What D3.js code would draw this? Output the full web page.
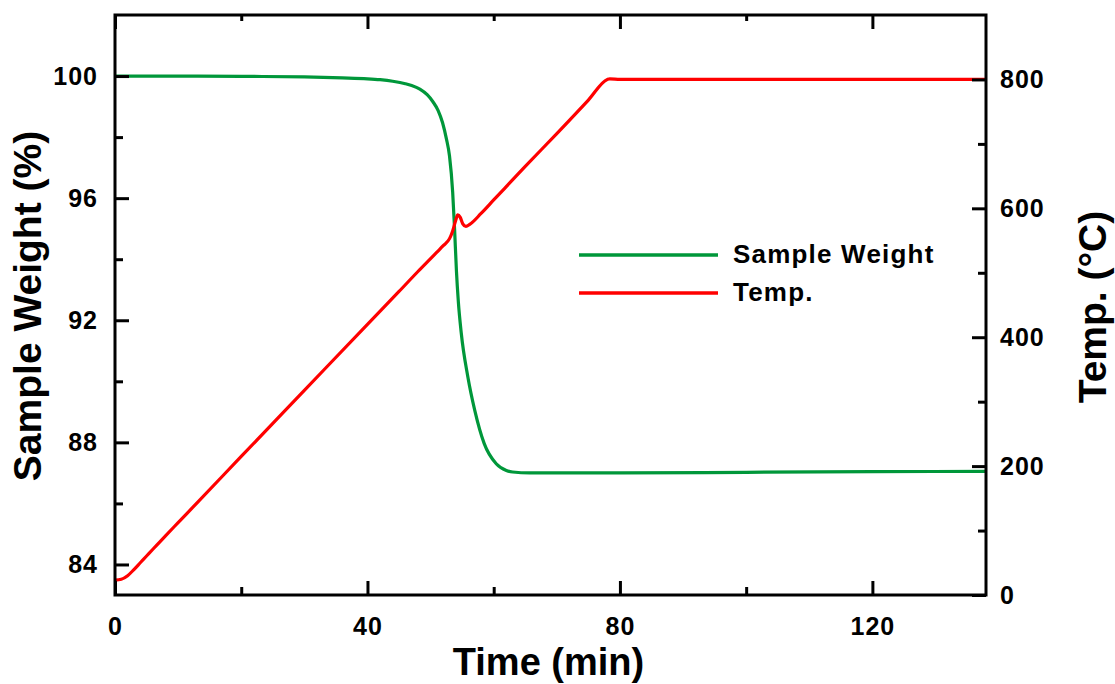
<!DOCTYPE html>
<html>
<head>
<meta charset="utf-8">
<script src="https://cdn.jsdelivr.net/npm/d3@7"></script>
<style>
  html, body { margin: 0; padding: 0; background: #fff; }
  svg text { font-family: "Liberation Sans", Arial, sans-serif; font-weight: bold; fill: #000; }
</style>
</head>
<body>
<svg id="chart" width="1115" height="684"></svg>
<script>
// Thermogravimetric run: sample weight (%) and furnace temperature (°C) vs time (min)
const weightTime = [0, 10, 20, 30, 36, 40, 42, 44, 46, 47, 48.3, 49.5, 50.4, 51.2, 51.9, 52.5, 53.0, 53.5, 53.8, 54.1, 54.4, 54.85, 55.9, 57.0, 58.5, 60.4, 62.0, 63.0, 65.7, 80, 100, 120, 138];
const weightValues = [100.0, 100.0, 99.99, 99.97, 99.94, 99.91, 99.88, 99.83, 99.75, 99.69, 99.57, 99.38, 99.15, 98.87, 98.47, 97.95, 97.38, 96.2, 95.0, 93.6, 92.6, 91.6, 90.15, 89.05, 87.96, 87.3, 87.08, 87.03, 87.0, 87.0, 87.02, 87.04, 87.05];

const tempTime = [0, 1, 2, 3, 4, 5, 6, 7, 8, 10, 13, 20, 30, 40, 45, 48, 50, 51, 52, 53, 53.5, 54.0, 54.3, 54.7, 55.1, 55.6, 56.2, 58, 60, 62.5, 65, 70, 75, 78, 78.4, 80, 90, 100, 120, 138];
const tempValues = [23, 24.5, 30, 39.5, 50, 60.5, 71, 81.4, 91.8, 112.3, 143, 215, 317.5, 420, 471, 502, 522, 532, 542, 553, 565, 582, 590, 586, 576, 572, 575, 592, 613, 639, 665, 716, 768, 800, 801, 800, 800, 800, 800, 800];

const xMajor = [0, 40, 80, 120];
const xMinor = [20, 60, 100];
const yLeftMajor = [84, 88, 92, 96, 100];
const yLeftMinor = [86, 90, 94, 98];
const yRightMajor = [0, 200, 400, 600, 800];
const yRightMinor = [100, 300, 500, 700];

const seriesNames = ["Sample Weight", "Temp."];
const seriesColors = ["#00973a", "#ff0000"];

const svg = d3.select("#chart");
const m = { left: 115, top: 15, right: 986, bottom: 595 };

const x = d3.scaleLinear().domain([0, 138]).range([m.left, m.right]);
const yL = d3.scaleLinear().domain([83, 102]).range([m.bottom, m.top]);
const yR = d3.scaleLinear().domain([0, 900]).range([m.bottom, m.top]);

const majorLen = 14, minorLen = 8;

// curves
const wLine = d3.line().x(d => x(d[0])).y(d => yL(d[1])).curve(d3.curveMonotoneX);
const tLine = d3.line().x(d => x(d[0])).y(d => yR(d[1])).curve(d3.curveMonotoneX);

svg.append("path")
  .datum(weightTime.map((t, i) => [t, weightValues[i]]))
  .attr("d", wLine)
  .attr("fill", "none")
  .attr("stroke", seriesColors[0])
  .attr("stroke-width", 3.2);

svg.append("path")
  .datum(tempTime.map((t, i) => [t, tempValues[i]]))
  .attr("d", tLine)
  .attr("fill", "none")
  .attr("stroke", seriesColors[1])
  .attr("stroke-width", 3.2);

// axes (ticks point inward)
function styleAxis(g) {
  g.select(".domain").remove();
  g.selectAll(".tick line").attr("stroke", "#000").attr("stroke-width", 3);
  g.selectAll(".tick text")
    .style("font-size", "25px")
    .style("letter-spacing", "1px")
    .attr("fill", "#000");
}

// bottom
svg.append("g").attr("transform", `translate(0,${m.bottom})`)
  .call(d3.axisBottom(x).tickValues(xMajor).tickSizeInner(-majorLen).tickSizeOuter(0).tickPadding(22).tickFormat(d3.format("d")))
  .call(styleAxis);
svg.append("g").attr("transform", `translate(0,${m.bottom})`)
  .call(d3.axisBottom(x).tickValues(xMinor).tickSizeInner(-minorLen).tickSizeOuter(0).tickFormat(""))
  .call(styleAxis);
// top mirror
svg.append("g").attr("transform", `translate(0,${m.top})`)
  .call(d3.axisTop(x).tickValues(xMajor).tickSizeInner(-majorLen).tickSizeOuter(0).tickFormat(""))
  .call(styleAxis);
svg.append("g").attr("transform", `translate(0,${m.top})`)
  .call(d3.axisTop(x).tickValues(xMinor).tickSizeInner(-minorLen + 2).tickSizeOuter(0).tickFormat(""))
  .call(styleAxis);
// left
svg.append("g").attr("transform", `translate(${m.left},0)`)
  .call(d3.axisLeft(yL).tickValues(yLeftMajor).tickSizeInner(-majorLen).tickSizeOuter(0).tickPadding(17).tickFormat(d3.format("d")))
  .call(styleAxis);
svg.append("g").attr("transform", `translate(${m.left},0)`)
  .call(d3.axisLeft(yL).tickValues(yLeftMinor).tickSizeInner(-minorLen).tickSizeOuter(0).tickFormat(""))
  .call(styleAxis);
// right
svg.append("g").attr("transform", `translate(${m.right},0)`)
  .call(d3.axisRight(yR).tickValues(yRightMajor).tickSizeInner(-majorLen).tickSizeOuter(0).tickPadding(14).tickFormat(d3.format("d")))
  .call(styleAxis);
svg.append("g").attr("transform", `translate(${m.right},0)`)
  .call(d3.axisRight(yR).tickValues(yRightMinor).tickSizeInner(-minorLen).tickSizeOuter(0).tickFormat(""))
  .call(styleAxis);

// frame
svg.append("rect")
  .attr("x", m.left).attr("y", m.top)
  .attr("width", m.right - m.left).attr("height", m.bottom - m.top)
  .attr("fill", "none").attr("stroke", "#000").attr("stroke-width", 3);

// axis titles
svg.append("text")
  .attr("x", (m.left + m.right) / 2 - 2).attr("y", 675)
  .attr("text-anchor", "middle")
  .style("font-size", "38px")
  .text("Time (min)");

svg.append("text")
  .attr("transform", "translate(41,306) rotate(-90)")
  .attr("text-anchor", "middle")
  .style("font-size", "39px")
  .text("Sample Weight (%)");

svg.append("text")
  .attr("transform", "translate(1106,307) rotate(-90)")
  .attr("text-anchor", "middle")
  .style("font-size", "39px")
  .text("Temp. (°C)");

// legend
const legend = svg.append("g").attr("transform", "translate(579,255)");
seriesNames.forEach((name, i) => {
  const row = legend.append("g").attr("transform", `translate(0,${i * 38})`);
  row.append("line")
    .attr("x1", 0).attr("x2", 139).attr("y1", 0).attr("y2", 0)
    .attr("stroke", seriesColors[i]).attr("stroke-width", 3.5);
  row.append("text")
    .attr("x", 154).attr("y", 8)
    .style("font-size", "26px")
    .style("letter-spacing", "1.2px")
    .text(name);
});
</script>
</body>
</html>
